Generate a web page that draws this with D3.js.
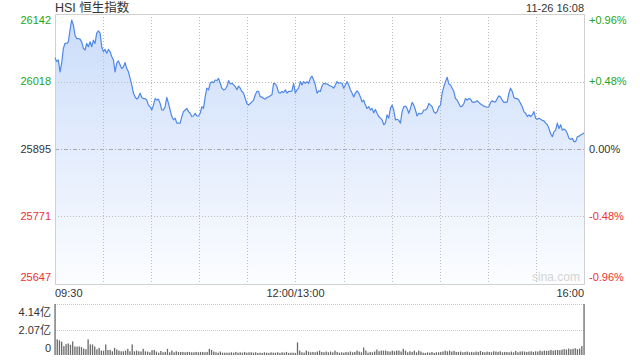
<!DOCTYPE html>
<html>
<head>
<meta charset="utf-8">
<script src="https://cdn.jsdelivr.net/npm/d3@7/dist/d3.min.js"></script>
<style>
  html, body { margin: 0; padding: 0; background: #fff; }
  svg { display: block; font-family: "Liberation Sans", Arial, "Noto Sans CJK SC", sans-serif; }
</style>
</head>
<body>
<div id="chart"></div>
<script>
var WIDTH = 640, HEIGHT = 360;

// chart data
var title = "HSI 恒生指数";
var stamp = "11-26 16:08";
var prevClose = 25895;
var priceTicks = [25647, 25771, 25895, 26018, 26142];
var pctTicks = ["-0.96%", "-0.48%", "0.00%", "+0.48%", "+0.96%"];
var timeTicks = [0, 150, 330];
var timeLabels = ["09:30", "12:00/13:00", "16:00"];
var volTicks = [0, 2.07, 4.14];
var volLabels = ["0", "2.07亿", "4.14亿"];

// minute prices, morning -> close
var prices = [
  26062,26055,26058,26036,26052,26079,26088,26088,26091,26113,
  26131,26122,26103,26097,26097,26096,26091,26079,26076,26088,
  26082,26091,26082,26094,26088,26107,26111,26107,26082,26073,
  26077,26070,26077,26073,26064,26058,26036,26052,26056,26049,
  26042,26045,26053,26042,26036,26024,26012,25997,25990,25986,
  25989,25997,25989,25987,25987,25984,25975,25972,25966,25975,
  25987,25984,25986,25978,25966,25966,25972,25989,25978,25966,
  25954,25948,25951,25942,25942,25942,25954,25963,25966,25969,
  25963,25960,25954,25955,25960,25955,25955,25960,25972,25969,
  25990,26006,26003,26015,26018,26016,26021,26020,26024,26015,
  26006,26003,26004,26009,26020,26014,26015,26012,26009,26003,
  26010,26006,
  26000,25997,25987,25978,25975,25978,25981,25984,25994,26000,
  26000,25990,25990,25987,25986,25989,25990,25992,25994,26015,
  26014,26009,25998,25997,26000,25998,26003,25997,26000,26000,
  26001,26015,25997,26003,26006,26018,26012,26018,26015,26018,
  26015,26024,26028,26021,26012,25997,26001,26000,26010,26015,
  26014,26014,26012,26010,26009,26006,26012,26018,26015,26016,
  26015,26006,26012,26018,26012,26003,25997,25990,25997,26001,
  25997,25990,25981,25984,25975,25969,25972,25966,25969,25961,
  25967,25960,25954,25951,
  25948,25939,25942,25957,25951,25969,25975,25966,25948,25949,
  25947,25942,25963,25972,25973,25969,25960,25969,25980,25975,
  25966,25955,25960,25959,25960,25966,25966,25969,25978,25975,
  25972,25963,25960,25963,25972,25975,25997,26009,26018,26026,
  26014,26012,26006,26000,25987,25984,25978,25972,25973,25978,
  25987,25984,25987,25986,25981,25980,25981,25983,25980,25977,
  25975,25973,25972,25971,25972,25980,25983,25981,25981,25987,
  25992,25990,25984,25980,25980,25981,25997,26006,26000,25989,
  25987,25987,25984,25978,25972,25963,25960,25954,25957,25954,
  25957,25963,25951,25949,25951,25949,25947,25946,25942,25939,
  25932,25923,25917,25926,25929,25942,25932,25939,25929,25931,
  25929,25923,25914,25912,25914,25908,25908,25917,25918,25920,
  25922,25924
];

// volume bars, in 亿
var volumes = [
  4.14,1.27,1.19,1.08,0.72,0.88,0.94,0.83,1.10,0.69,
  0.69,0.69,0.64,0.52,0.47,1.27,0.86,0.86,0.69,0.47,
  0.58,0.36,0.36,0.86,0.41,0.41,0.30,0.58,0.44,0.36,
  0.30,0.30,0.36,0.50,0.30,0.86,0.30,0.36,0.30,0.28,
  0.50,0.30,0.28,0.22,0.39,0.41,0.28,0.19,0.33,0.22,
  0.25,0.50,0.22,0.36,0.22,0.30,0.25,0.25,0.25,0.22,
  0.25,0.25,0.22,0.22,0.25,0.22,0.25,0.25,0.22,0.25,
  0.50,0.41,0.28,0.22,0.19,0.28,0.19,0.19,0.19,0.19,
  0.22,0.19,0.25,0.19,0.22,0.19,0.25,0.19,0.22,0.22,
  0.19,0.22,0.17,0.19,0.17,0.22,0.19,0.17,0.22,0.19,
  0.19,0.22,0.17,0.22,0.19,0.25,0.17,0.19,0.19,0.17,
  1.02,0.36,0.22,0.19,0.36,0.28,0.22,0.25,0.22,0.28,
  0.36,0.25,0.22,0.28,0.22,0.28,0.22,0.36,0.25,0.19,
  0.22,0.19,0.25,0.22,0.28,0.22,0.25,0.36,0.28,0.22,
  0.61,0.36,0.19,0.25,0.22,0.28,0.44,0.30,0.36,0.36,
  0.36,0.30,0.28,0.36,0.30,0.36,0.36,0.28,0.50,0.36,
  0.22,0.30,
  0.25,0.36,0.22,0.36,0.28,0.19,0.17,0.22,0.19,0.25,
  0.17,0.22,0.22,0.25,0.28,0.36,0.30,0.36,0.28,0.33,
  0.25,0.25,0.28,0.22,0.25,0.28,0.22,0.25,0.22,0.28,
  0.25,0.33,0.25,0.22,0.28,0.25,0.22,0.30,0.28,0.25,
  0.30,0.22,0.25,0.25,0.22,0.28,0.22,0.33,0.22,0.28,
  0.30,0.28,0.25,0.28,0.30,0.25,0.30,0.28,0.36,0.30,
  0.36,0.33,0.36,0.41,0.36,0.39,0.41,0.39,0.44,0.47,
  0.44,0.52,0.47,0.50,0.55,0.47,0.52,0.72,4.14
];

var plot = {left: 55, right: 584, top: 14, bottom: 284};
var vol = {top: 304, bottom: 355};
var GREEN = "#22a622", RED = "#ee3030", DARK = "#333";

function tickColor(v) {
  if (v > prevClose) return GREEN;
  if (v < prevClose) return RED;
  return DARK;
}

var svg = d3.select("#chart").append("svg")
  .attr("width", WIDTH)
  .attr("height", HEIGHT);

var t = d3.scaleLinear().domain([0, 330]).range([plot.left, plot.right]);
var xi = d3.scaleLinear().domain([0, prices.length - 1]).range([plot.left, plot.right]);
var y = d3.scaleLinear().domain([25647, 26142]).range([plot.bottom, plot.top]);
var xv = d3.scaleLinear().domain([0, volumes.length - 1]).range([plot.left, plot.right]);
var yv = d3.scaleLinear().domain([0, 4.14]).range([vol.bottom, vol.top]);

var defs = svg.append("defs");
var grad = defs.append("linearGradient")
  .attr("id", "fill")
  .attr("gradientUnits", "userSpaceOnUse")
  .attr("x1", 0).attr("x2", 0)
  .attr("y1", plot.top).attr("y2", plot.bottom);
grad.append("stop").attr("offset", "0%").attr("stop-color", "#cadcfa");
grad.append("stop").attr("offset", "100%").attr("stop-color", "#fcfdff");

// title + time stamp
svg.append("text")
  .attr("x", plot.left).attr("y", 12)
  .style("font-size", "12.5px").style("fill", DARK)
  .text(title);
svg.append("text")
  .attr("x", plot.right).attr("y", 12)
  .attr("text-anchor", "end")
  .style("font-size", "11px").style("fill", DARK)
  .text(stamp);

// area under price
var area = d3.area()
  .x(function(d, i) { return xi(i); })
  .y0(plot.bottom)
  .y1(function(d) { return y(d); });

svg.append("path")
  .attr("d", area(prices))
  .style("fill", "url(#fill)");

// grid
var g = svg.append("g");
g.selectAll(".vgrid")
  .data(d3.range(30, 330, 30))
  .enter().append("line")
  .attr("x1", function(d) { return Math.round(t(d)) + 0.5; })
  .attr("x2", function(d) { return Math.round(t(d)) + 0.5; })
  .attr("y1", plot.top).attr("y2", plot.bottom)
  .style("stroke", "#bdbdbd")
  .style("stroke-dasharray", "1,2");

g.selectAll(".hgrid")
  .data(priceTicks.slice(1, 4))
  .enter().append("line")
  .attr("x1", plot.left).attr("x2", plot.right)
  .attr("y1", function(d) { return Math.round(y(d)) + 0.5; })
  .attr("y2", function(d) { return Math.round(y(d)) + 0.5; })
  .style("stroke", function(d) { return d === prevClose ? "#a8a8a8" : "#bdbdbd"; })
  .style("stroke-dasharray", function(d) { return d === prevClose ? "4,2,1,2" : "1,2"; });

// frame
svg.append("path")
  .attr("d", "M" + (plot.left + 0.5) + "," + (plot.top + 0.5) +
    "H" + (plot.right + 0.5) + "V" + (plot.bottom + 0.5) +
    "H" + (plot.left + 0.5) + "Z")
  .style("fill", "none")
  .style("stroke", "#d0d0d0");

// price line
var line = d3.line()
  .x(function(d, i) { return xi(i); })
  .y(function(d) { return y(d); });

svg.append("path")
  .attr("d", line(prices))
  .style("fill", "none")
  .style("stroke", "#4f88ea")
  .style("stroke-width", 1.2)
  .style("stroke-linejoin", "round");

// watermark
svg.append("text")
  .attr("x", plot.right - 4).attr("y", plot.bottom - 3)
  .attr("text-anchor", "end")
  .style("font-size", "12px").style("fill", "#d4d4d4")
  .text("sina.com");

// left + right axis labels
function labelShift(i, n) {
  if (i === 0) return -7;
  if (i === n - 1) return 6;
  return 0;
}

svg.append("g").selectAll("text")
  .data(priceTicks)
  .enter().append("text")
  .attr("x", plot.left - 4)
  .attr("y", function(d, i) { return y(d) + labelShift(i, priceTicks.length); })
  .attr("dy", "0.35em")
  .attr("text-anchor", "end")
  .style("font-size", "11px")
  .style("fill", tickColor)
  .text(function(d) { return d; });

svg.append("g").selectAll("text")
  .data(pctTicks)
  .enter().append("text")
  .attr("x", plot.right + 5)
  .attr("y", function(d, i) { return y(priceTicks[i]) + labelShift(i, pctTicks.length); })
  .attr("dy", "0.35em")
  .style("font-size", "11px")
  .style("fill", function(d, i) { return tickColor(priceTicks[i]); })
  .text(function(d) { return d; });

// time labels
svg.append("g").selectAll("text")
  .data(timeTicks)
  .enter().append("text")
  .attr("x", function(d) { return t(d); })
  .attr("y", 297)
  .attr("text-anchor", function(d, i) { return i === 0 ? "start" : (i === timeTicks.length - 1 ? "end" : "middle"); })
  .style("font-size", "11px")
  .style("fill", DARK)
  .text(function(d, i) { return timeLabels[i]; });

// volume panel
svg.append("g").selectAll("line")
  .data(volTicks.slice(1))
  .enter().append("line")
  .attr("x1", plot.left).attr("x2", plot.right + 1)
  .attr("y1", function(d) { return Math.round(yv(d)) + 0.5; })
  .attr("y2", function(d) { return Math.round(yv(d)) + 0.5; })
  .style("stroke", "#c8c8c8")
  .style("stroke-dasharray", "1,1");

svg.append("g").selectAll("rect")
  .data(volumes)
  .enter().append("rect")
  .attr("x", function(d, i) { return xv(i) - 0.6; })
  .attr("width", 1.3)
  .attr("y", function(d) { return yv(d); })
  .attr("height", function(d) { return vol.bottom - yv(d); })
  .style("fill", "#6a6a6a");

svg.append("g").selectAll("text")
  .data(volTicks)
  .enter().append("text")
  .attr("x", plot.left - 4)
  .attr("y", function(d, i) { return yv(d) + (i === 0 ? -7 : (i === volTicks.length - 1 ? 8 : 1)); })
  .attr("dy", "0.35em")
  .attr("text-anchor", "end")
  .style("font-size", "11px")
  .style("fill", DARK)
  .text(function(d, i) { return volLabels[i]; });
</script>
</body>
</html>
